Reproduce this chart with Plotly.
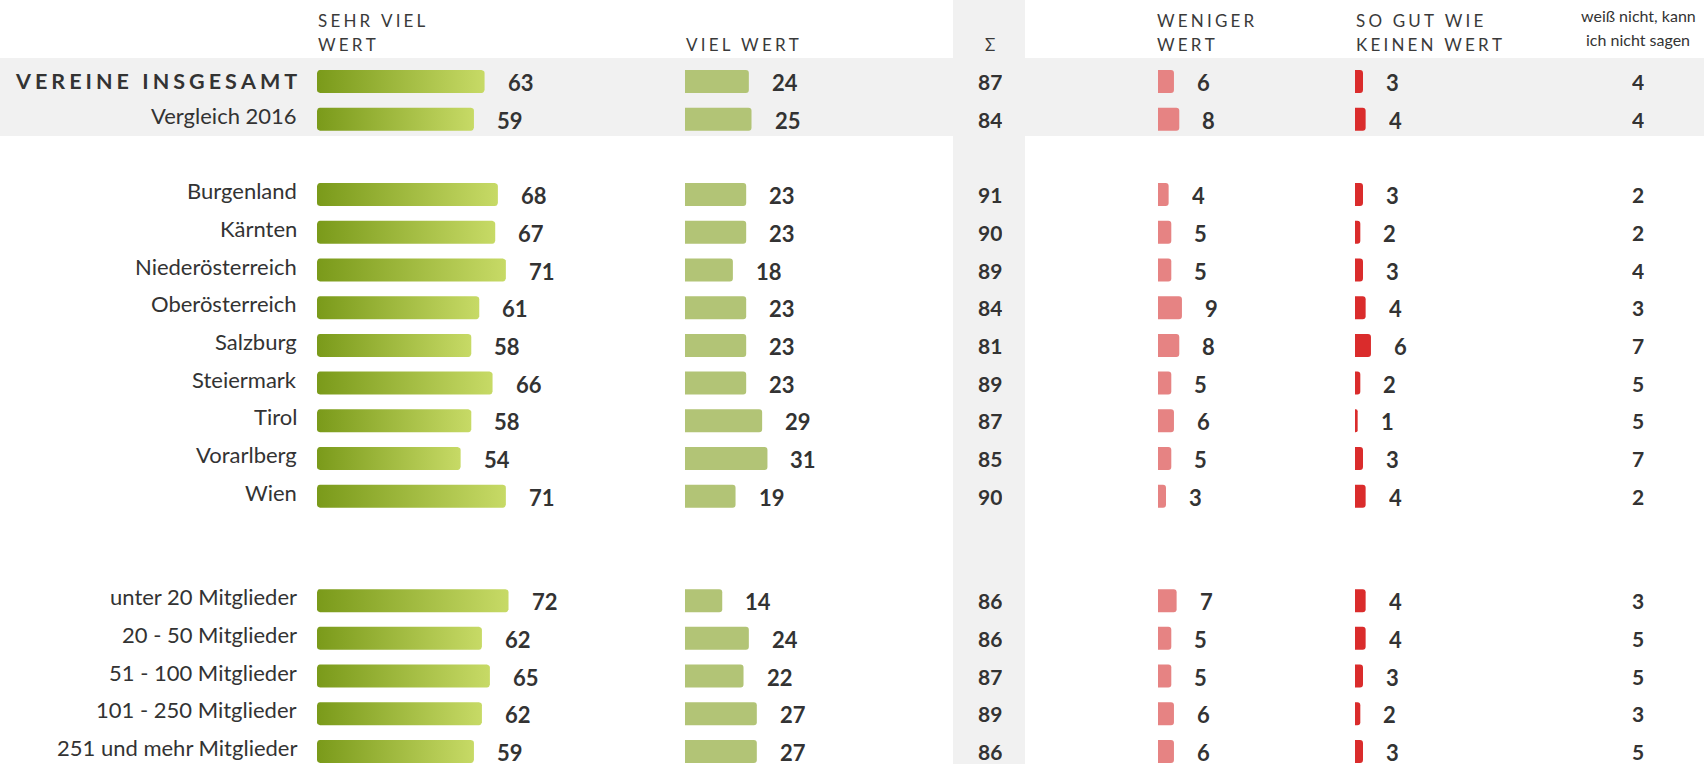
import plotly.graph_objects as go
import math

# ---------------- data ----------------
labels = ["VEREINE INSGESAMT", "Vergleich 2016",
          "Burgenland", "Kärnten", "Niederösterreich", "Oberösterreich", "Salzburg",
          "Steiermark", "Tirol", "Vorarlberg", "Wien",
          "unter 20 Mitglieder", "20 - 50 Mitglieder", "51 - 100 Mitglieder",
          "101 - 250 Mitglieder", "251 und mehr Mitglieder"]
group = [0, 0, 1, 1, 1, 1, 1, 1, 1, 1, 1, 2, 2, 2, 2, 2]
sehr_viel = [63, 59, 68, 67, 71, 61, 58, 66, 58, 54, 71, 72, 62, 65, 62, 59]
viel = [24, 25, 23, 23, 18, 23, 23, 23, 29, 31, 19, 14, 24, 22, 27, 27]
summe = [87, 84, 91, 90, 89, 84, 81, 89, 87, 85, 90, 86, 86, 87, 89, 86]
weniger = [6, 8, 4, 5, 5, 9, 8, 5, 6, 5, 3, 7, 5, 5, 6, 6]
kaum = [3, 4, 3, 2, 3, 4, 6, 2, 1, 3, 4, 4, 4, 3, 2, 3]
weiss_nicht = [4, 4, 2, 2, 4, 3, 7, 5, 5, 7, 2, 3, 5, 5, 3, 5]

# ---------------- layout / style ----------------
W, H = 1704, 764
FONT = "Lato"
TXT = "#333333"
BAND = "#f1f1f1"
C_SEHR0, C_SEHR1 = "#7a9a1a", "#c7da66"
C_VIEL = "#b2c476"
C_WEN = "#e68383"
C_KAUM = "#da2c2c"

ROW0, STEP, BAR_H = 81.5, 37.7, 23
GROUP_GAP = {0: 0.0, 1: 1.0, 2: 2.77}
rows = [ROW0 + (i + GROUP_GAP[g]) * STEP for i, g in enumerate(group)]

PX_PER_UNIT = 2.66
cols = {  # x-start in px, axis range max
    "x": (317, 100),
    "x2": (685, 100),
    "x3": (1158, 40),
    "x4": (1355, 40),
}
SUM_X = 990
WN_X = 1638
LABEL_RIGHT = 299
RADIUS = 3  # px


def spaced(s, sep="\u2009\u200a"):
    return sep.join(list(s))


def rounded_rect(v, yc, h, r_px, unit_px):
    """Outline of a bar from 0 to v (axis units) with rounded corners."""
    rx = r_px / unit_px
    ry = r_px
    top, bot = yc - h / 2, yc + h / 2
    corners = [(v - rx, top + ry, -90, 0), (v - rx, bot - ry, 0, 90),
               (rx, bot - ry, 90, 180), (rx, top + ry, 180, 270)]
    xs, ys = [], []
    for cx, cy, a0, a1 in corners:
        for k in range(5):
            a = math.radians(a0 + (a1 - a0) * k / 4)
            xs.append(cx + rx * math.cos(a))
            ys.append(cy + ry * math.sin(a))
    xs.append(xs[0]); ys.append(ys[0])
    return xs, ys


fig = go.Figure()

# gradient bars (SEHR VIEL WERT) – one filled shape per bar
for v, y in zip(sehr_viel, rows):
    xs, ys = rounded_rect(v, y, BAR_H, RADIUS, PX_PER_UNIT)
    fig.add_trace(go.Scatter(
        x=xs, y=ys, xaxis="x", yaxis="y", mode="lines", line=dict(width=0), fill="toself",
        fillgradient=dict(type="horizontal", colorscale=[[0, C_SEHR0], [1, C_SEHR1]]),
        hoverinfo="skip", showlegend=False))

for ax, vals, col in [("x2", viel, C_VIEL), ("x3", weniger, C_WEN), ("x4", kaum, C_KAUM)]:
    fig.add_trace(go.Bar(
        x=vals, y=rows, orientation="h", xaxis=ax, yaxis="y", width=BAR_H,
        marker=dict(color=col, cornerradius=RADIUS, line=dict(width=0)),
        hoverinfo="skip", showlegend=False))

ann = []
# value labels next to bars
for ax, vals in [("x", sehr_viel), ("x2", viel), ("x3", weniger), ("x4", kaum)]:
    for v, y in zip(vals, rows):
        ann.append(dict(x=v, y=y - 0.5, xref=ax, yref="y", text=str(v), showarrow=False,
                        xanchor="left", yanchor="middle", xshift=21, yshift=-1, height=22,
                        font=dict(family=FONT, size=22, color=TXT, weight="bold")))
# sum and "weiß nicht" columns
for vals, cx in [(summe, SUM_X), (weiss_nicht, WN_X)]:
    for v, y in zip(vals, rows):
        ann.append(dict(x=cx / W, y=y - 0.5, xref="paper", yref="y", text=str(v), showarrow=False,
                        xanchor="center", yanchor="middle", height=22,
                        font=dict(family=FONT, size=21, color=TXT, weight="bold")))
# row labels
for i, (lab, y) in enumerate(zip(labels, rows)):
    if i == 0:
        ann.append(dict(x=LABEL_RIGHT / W, y=y - 1, xref="paper", yref="y", text=spaced(lab),
                        showarrow=False, xanchor="right", yanchor="middle",
                        font=dict(family=FONT, size=21.5, color=TXT, weight="bold")))
    else:
        ann.append(dict(x=LABEL_RIGHT / W, y=y - 4, xref="paper", yref="y", text=lab,
                        showarrow=False, xanchor="right", yanchor="middle",
                        font=dict(family=FONT, size=22, color=TXT)))

# column headers
hfont = dict(family=FONT, size=17, color="#3a3a3a")
headers = [
    (316, 20, "SEHR VIEL", "left"), (316, 44, "WERT", "left"),
    (684, 44, "VIEL WERT", "left"),
    (SUM_X, 44, "Σ", "center"),
    (1155, 20, "WENIGER", "left"), (1155, 44, "WERT", "left"),
    (1354, 20, "SO GUT WIE", "left"), (1354, 44, "KEINEN WERT", "left"),
]
for x, y, t, xa in headers:
    ann.append(dict(x=x / W, y=y, xref="paper", yref="y", text=spaced(t) if t != "Σ" else t,
                    showarrow=False, xanchor=xa, yanchor="middle", font=hfont))
for y, t in [(15, "weiß nicht, kann"), (39, "ich nicht sagen")]:
    ann.append(dict(x=WN_X / W, y=y, xref="paper", yref="y", text=t, showarrow=False,
                    xanchor="center", yanchor="middle",
                    font=dict(family=FONT, size=16, color=TXT)))

shapes = [
    dict(type="rect", xref="paper", yref="y", x0=0, x1=1, y0=58, y1=136,
         fillcolor=BAND, line=dict(width=0), layer="below"),
    dict(type="rect", xref="paper", yref="y", x0=953 / W, x1=1025 / W, y0=0, y1=H,
         fillcolor=BAND, line=dict(width=0), layer="below"),
]

layout = dict(
    width=W, height=H, margin=dict(l=0, r=0, t=0, b=0),
    paper_bgcolor="white", plot_bgcolor="rgba(0,0,0,0)",
    showlegend=False, barmode="overlay",
    yaxis=dict(range=[H, 0], domain=[0, 1], visible=False, fixedrange=True),
    annotations=ann, shapes=shapes,
)
for ax, (x0, rmax) in cols.items():
    key = "xaxis" if ax == "x" else "xaxis" + ax[1:]
    layout[key] = dict(domain=[x0 / W, (x0 + rmax * PX_PER_UNIT) / W], range=[0, rmax],
                       visible=False, anchor="y", fixedrange=True)
fig.update_layout(**layout)

fig.write_html("out.html", config={"displayModeBar": False, "staticPlot": True},
               post_script="document.body.style.margin='0';document.body.style.overflow='hidden';")
